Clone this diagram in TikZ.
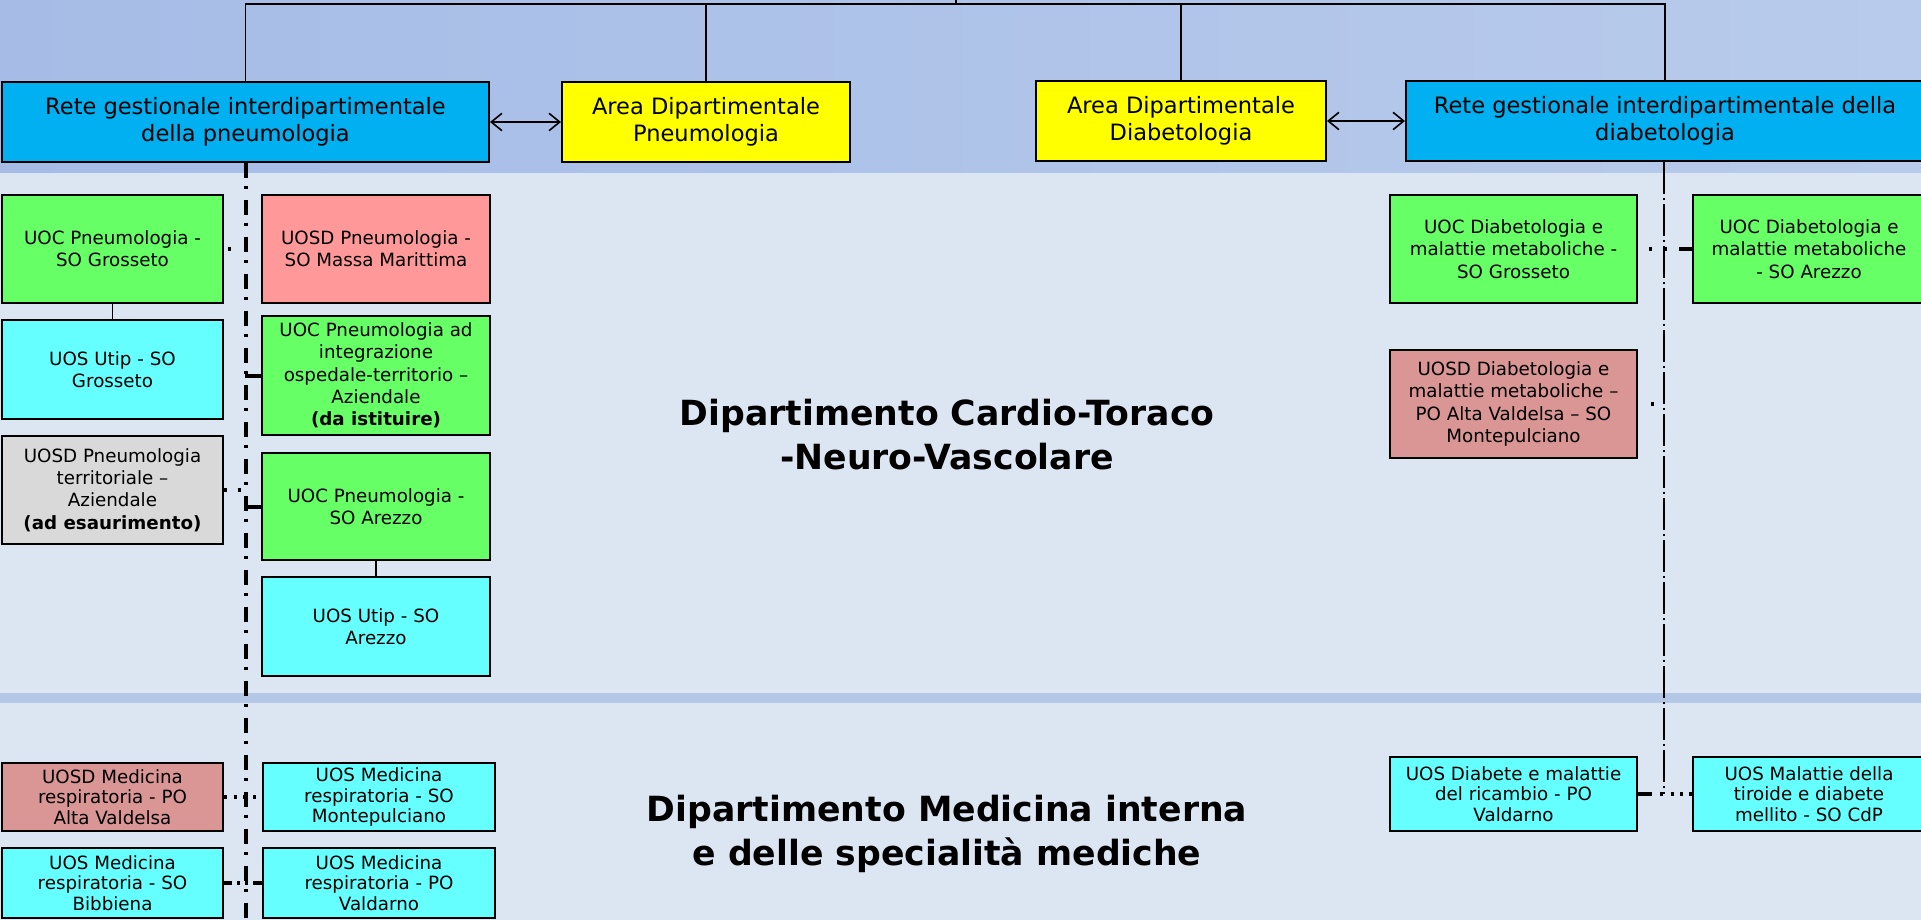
\documentclass[tikz,border=0pt]{standalone}
\usepackage{fontspec}
\setmainfont{DejaVu Sans}
\usetikzlibrary{arrows.meta}

\definecolor{bgtopl}{HTML}{A6BCE6}
\definecolor{bgtopr}{HTML}{B8CBEC}
\definecolor{bglow}{HTML}{DCE6F2}
\definecolor{sepband}{HTML}{B4C7E7}
\definecolor{reteblue}{HTML}{00B0F0}
\definecolor{areayellow}{HTML}{FFFF00}
\definecolor{uocgreen}{HTML}{66FF66}
\definecolor{uoscyan}{HTML}{66FFFF}
\definecolor{uosdpink}{HTML}{FF9999}
\definecolor{uosdrose}{HTML}{DA9694}
\definecolor{uosdgrey}{HTML}{D9D9D9}

\begin{document}
\begin{tikzpicture}[x=0.75pt, y=-0.75pt,
  unitbox/.style={draw=black, line width=1.5pt, align=center, inner sep=2pt,
    font=\fontsize{13.7}{16.7}\selectfont},
  lowunit/.style={unitbox, font=\fontsize{13.7}{15.6}\selectfont},
  netbox/.style={unitbox, fill=reteblue, minimum height=60pt,
    font=\fontsize{16.9}{20.3}\selectfont},
  areabox/.style={netbox, fill=areayellow},
  title/.style={align=center, font=\fontsize{26}{33}\selectfont\bfseries},
  treeline/.style={draw=black, line width=1.2pt},
  arrowlink/.style={treeline, {Straight Barb[length=8pt,width=13pt]}-{Straight Barb[length=8pt,width=13pt]}},
  netline/.style={line width=3pt, dash pattern=on 11.25pt off 6pt on 2.25pt off 8.25pt},
  netlinetwo/.style={line width=2.2pt, dash pattern=on 24pt off 3pt on 1.5pt off 3pt},
  dotlink/.style={line width=2.5pt},
  stublink/.style={line width=3pt}]

% Background
\shade[left color=bgtopl, right color=bgtopr] (0,0) rectangle (1921,173);
\fill[bglow] (0,173) rectangle (1921,920);
\fill[sepband] (0,693) rectangle (1921,703);
\useasboundingbox (0,0) rectangle (1921,920);

% Top level
\node[netbox, minimum width=365.25pt] (retep) at (245.5,122) {Rete gestionale interdipartimentale\\della pneumologia};
\node[areabox, minimum width=216pt] (areap) at (706,122) {Area Dipartimentale\\Pneumologia};
\node[areabox, minimum width=217.5pt] (aread) at (1181,121) {Area Dipartimentale\\Diabetologia};
\node[netbox, minimum width=388.5pt] (reted) at (1665,121) {Rete gestionale interdipartimentale della\\diabetologia};

\coordinate (hub) at (956,4);
\coordinate (parent) at (956,0);
\draw[treeline] (retep.north) |- (hub) -| (reted.north);
\draw[treeline] (areap.north) -- (areap.north |- hub);
\draw[treeline] (aread.north) -- (aread.north |- hub);
\draw[treeline] (hub) -- (parent);
\draw[arrowlink] (retep.east) -- (areap.west);
\draw[arrowlink] (aread.east) -- (reted.west);

% Department titles
\node[title] (dctnv) at (947,435) {Dipartimento Cardio-Toraco\\-Neuro-Vascolare};
\node[title] (dmisp) at (947,834) {Dipartimento Medicina interna\\e delle specialità mediche};

% Pneumologia, first column
\node[unitbox, fill=uocgreen, minimum width=165.75pt, minimum height=81pt] (uocgr) at (112.5,249) {UOC Pneumologia -\\SO Grosseto};
\node[unitbox, fill=uoscyan, minimum width=165.75pt, minimum height=74.25pt] (utipgr) at (112.5,369.5) {UOS Utip - SO\\Grosseto};
\node[unitbox, fill=uosdgrey, minimum width=165.75pt, minimum height=81pt] (territ) at (112.5,490) {UOSD Pneumologia\\territoriale –\\Aziendale\\\textbf{(ad esaurimento)}};
\node[lowunit, fill=uosdrose, minimum width=165.75pt, minimum height=51pt] (medav) at (112.5,797) {UOSD Medicina\\respiratoria - PO\\Alta Valdelsa};
\node[lowunit, fill=uoscyan, minimum width=165.75pt, minimum height=52.5pt] (medbib) at (112.5,883) {UOS Medicina\\respiratoria - SO\\Bibbiena};

% Pneumologia, second column
\node[unitbox, fill=uosdpink, minimum width=171pt, minimum height=81pt] (massa) at (376,249) {UOSD Pneumologia -\\SO Massa Marittima};
\node[unitbox, fill=uocgreen, minimum width=171pt, minimum height=89.25pt] (uocint) at (376,375.5) {UOC Pneumologia ad\\integrazione\\ospedale-territorio –\\Aziendale\\\textbf{(da istituire)}};
\node[unitbox, fill=uocgreen, minimum width=171pt, minimum height=80.25pt] (uocar) at (376,506.5) {UOC Pneumologia -\\SO Arezzo};
\node[unitbox, fill=uoscyan, minimum width=171pt, minimum height=74.25pt] (utipar) at (376,626.5) {UOS Utip - SO\\Arezzo};
\node[lowunit, fill=uoscyan, minimum width=174pt, minimum height=51pt] (medmont) at (379,797) {UOS Medicina\\respiratoria - SO\\Montepulciano};
\node[lowunit, fill=uoscyan, minimum width=174pt, minimum height=52.5pt] (medval) at (379,883) {UOS Medicina\\respiratoria - PO\\Valdarno};

% Diabetologia units
\node[unitbox, fill=uocgreen, minimum width=185.25pt, minimum height=81pt] (diabgr) at (1513.5,249) {UOC Diabetologia e\\malattie metaboliche -\\SO Grosseto};
\node[unitbox, fill=uocgreen, minimum width=174pt, minimum height=81pt] (diabar) at (1809,249) {UOC Diabetologia e\\malattie metaboliche\\- SO Arezzo};
\node[unitbox, fill=uosdrose, minimum width=185.25pt, minimum height=81pt] (diabav) at (1513.5,404) {UOSD Diabetologia e\\malattie metaboliche –\\PO Alta Valdelsa – SO\\Montepulciano};
\node[lowunit, fill=uoscyan, minimum width=185.25pt, minimum height=55.5pt] (diabval) at (1513.5,794) {UOS Diabete e malattie\\del ricambio - PO\\Valdarno};
\node[lowunit, fill=uoscyan, minimum width=174pt, minimum height=55.5pt] (tiroide) at (1809,794) {UOS Malattie della\\tiroide e diabete\\mellito - SO CdP};

% Network lines
\coordinate (pend) at (245,920);
\coordinate (dend) at (1664,794);
\draw[netline] (retep.south) -- (retep.south |- pend);
\draw[netlinetwo] (reted.south -| dend) -- (dend);

% Links to the networks
\draw[treeline] (uocgr.south) -- (utipgr.north);
\draw[treeline] (uocar.south) -- (utipar.north);
\draw[dotlink, dash pattern=on 0pt off 3pt on 2.5pt off 10.25pt on 2.5pt off 10.5pt on 2.5pt] (uocgr.east) -- (massa.west);
\draw[dotlink, dash pattern=on 2.25pt off 8pt on 2.5pt off 10pt] (territ.east) -- (territ.east -| pend);
\draw[stublink] (uocint.west -| pend) -- (uocint.west);
\draw[stublink] (uocar.west -| pend) -- (uocar.west);
\draw[dotlink, dash pattern=on 2.5pt off 4.75pt] (medav.east) -- (medmont.west);
\draw[dotlink, dash pattern=on 6pt off 4pt on 2pt off 4pt on 2pt off 4pt on 8pt] (medbib.east) -- (medval.west);
\draw[dotlink, dash pattern=on 0pt off 8.25pt on 2.25pt off 9pt on 2.25pt off 9pt on 11.25pt] (diabgr.east) -- (diabar.west);
\draw[dotlink, dash pattern=on 0pt off 9.75pt on 2.25pt off 8pt] (diabav.east) -- (diabav.east -| dend);
\draw[dotlink, dash pattern=on 10.5pt off 6pt on 2.25pt off 6pt on 2.25pt off 4.5pt on 2.25pt off 4.5pt on 3pt] (diabval.east) -- (tiroide.west);

\end{tikzpicture}
\end{document}
